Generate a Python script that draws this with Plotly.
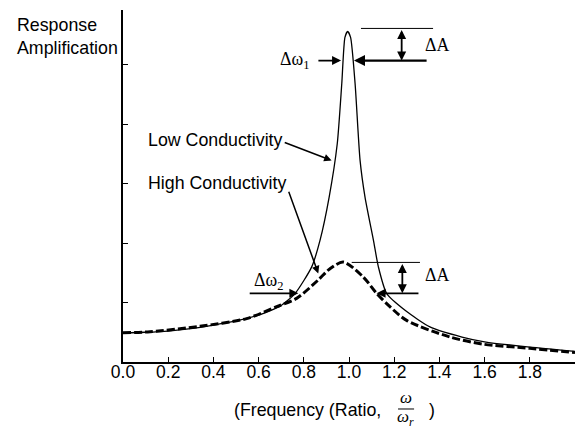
import plotly.graph_objects as go

# Low conductivity response (solid)
low_x = [0.0, 0.1, 0.2, 0.3, 0.4, 0.5, 0.6, 0.65, 0.7, 0.761, 0.835, 0.872, 0.912, 0.948,
         0.968, 0.982, 0.994, 1.007, 1.027, 1.049, 1.071, 1.108, 1.13, 1.167, 1.248, 1.358,
         1.5, 1.6, 1.8, 2.0]
low_y = [0.49, 0.50, 0.52, 0.56, 0.62, 0.69, 0.79, 0.86, 0.95, 1.15, 1.60, 2.05, 2.77, 3.67,
         4.68, 5.46, 5.56, 5.46, 4.68, 3.39, 2.77, 2.05, 1.60, 1.15, 0.87, 0.59,
         0.42, 0.34, 0.25, 0.18]

# High conductivity response (dashed)
high_x = [0.0, 0.12, 0.34, 0.547, 0.68, 0.768, 0.864, 0.916, 0.975, 1.063, 1.123, 1.181,
          1.255, 1.447, 1.593, 1.8, 2.0]
high_y = [0.49, 0.51, 0.60, 0.73, 0.93, 1.07, 1.38, 1.57, 1.68, 1.43, 1.15, 0.93,
          0.70, 0.42, 0.30, 0.23, 0.16]

x_ticks = [0.0, 0.2, 0.4, 0.6, 0.8, 1.0, 1.2, 1.4, 1.6, 1.8]
x_tick_labels = ["0.0", "0.2", "0.4", "0.6", "0.8", "1.0", "1.2", "1.4", "1.6", "1.8"]
y_ticks = [1, 2, 3, 4, 5]

SANS = "Liberation Sans, Arial, sans-serif"
SERIF = "Liberation Serif, Times New Roman, serif"
LAB = 17.8

fig = go.Figure()
fig.add_trace(go.Scatter(x=low_x, y=low_y, mode="lines", line=dict(color="black", width=1.3, shape="spline", smoothing=0.6),
                         showlegend=False, hoverinfo="skip"))
fig.add_trace(go.Scatter(x=high_x, y=high_y, mode="lines", line=dict(color="black", width=3, dash="8px,3px", shape="spline", smoothing=0.8),
                         showlegend=False, hoverinfo="skip"))

ann = []
def text(x, y, t, font=SANS, size=LAB, xanchor="center", yanchor="middle", **kw):
    ann.append(dict(x=x, y=y, xref="x", yref="y", text=t, showarrow=False,
                    font=dict(family=font, size=size, color="black"),
                    xanchor=xanchor, yanchor=yanchor, **kw))

def arrow(x0, y0, x1, y1, width=1.5, side="end", head=2, size=1.0):
    ann.append(dict(x=x1, y=y1, ax=x0, ay=y0, xref="x", yref="y", axref="x", ayref="y",
                    text="", showarrow=True, arrowhead=head, startarrowhead=head,
                    arrowsize=size, startarrowsize=size, arrowwidth=width,
                    arrowcolor="black", arrowside=side, standoff=0, startstandoff=0))

ann.append(dict(x=-0.2390, y=0.926, xref="paper", yref="paper", text="Response<br>Amplification",
                showarrow=False, align="left", xanchor="left", yanchor="middle",
                font=dict(family=SANS, size=LAB, color="black")))
text(0.103, 3.74, "Low Conductivity", xanchor="left")
text(0.103, 3.01, "High Conductivity", xanchor="left")
arrow(0.709, 3.70, 0.923, 3.39)
arrow(0.731, 2.89, 0.864, 1.49)

# upper markers
text(0.761, 5.07, "Δω<sub>1</sub>", font=SERIF)
arrow(0.858, 5.07, 0.965, 5.07, width=1.8)
arrow(1.350, 5.07, 1.022, 5.07, width=2.2)
arrow(1.233, 5.61, 1.233, 5.07, width=1.8, side="end+start")
text(1.39, 5.33, "ΔA", font=SERIF)

# lower markers
text(0.643, 1.36, "Δω<sub>2</sub>", font=SERIF)
arrow(0.554, 1.155, 0.776, 1.155, width=1.8)
arrow(1.314, 1.155, 1.122, 1.155, width=1.8)
arrow(1.236, 1.675, 1.236, 1.155, width=1.8, side="end+start")
text(1.388, 1.46, "ΔA", font=SERIF)

# axis title with fraction
ann.append(dict(x=1.150, y=-0.1364, xref="x", yref="paper", text="(Frequency (Ratio,", showarrow=False,
                font=dict(family=SANS, size=LAB, color="black"), xanchor="right", yanchor="middle"))
ann.append(dict(x=1.252, y=-0.102, xref="x", yref="paper", text="<i>ω</i>", showarrow=False,
                font=dict(family=SERIF, size=17, color="black"), xanchor="center", yanchor="middle"))
ann.append(dict(x=1.252, y=-0.160, xref="x", yref="paper", text="<i>ω<sub>r</sub></i>", showarrow=False,
                font=dict(family=SERIF, size=17, color="black"), xanchor="center", yanchor="middle"))
ann.append(dict(x=1.366, y=-0.1364, xref="x", yref="paper", text=")", showarrow=False,
                font=dict(family=SANS, size=LAB, color="black"), xanchor="center", yanchor="middle"))

shapes = [
    dict(type="line", xref="x", yref="y", x0=1.053, x1=1.372, y0=5.61, y1=5.61, line=dict(color="black", width=1)),
    dict(type="line", xref="x", yref="y", x0=1.012, x1=1.314, y0=1.675, y1=1.675, line=dict(color="black", width=1)),
    dict(type="line", xref="x", yref="paper", x0=1.217, x1=1.288, y0=-0.1335, y1=-0.1335, line=dict(color="black", width=1)),
]

fig.update_layout(
    width=577, height=422,
    margin=dict(l=115, r=10, t=2, b=68),
    plot_bgcolor="white", paper_bgcolor="white",
    annotations=ann, shapes=shapes,
    font=dict(family=SANS, size=17, color="black"),
    xaxis=dict(range=[0, 2.0], showline=True, linecolor="black", linewidth=1.5, showgrid=False, zeroline=False,
               ticks="inside", ticklen=5, tickwidth=1, tickcolor="black",
               tickvals=x_ticks, ticktext=x_tick_labels, tickfont=dict(family=SANS, size=17.5),
               ticklabelstandoff=-7),
    yaxis=dict(range=[0, 5.92], showline=True, linecolor="black", linewidth=1.5, showgrid=False, zeroline=False,
               ticks="inside", ticklen=5, tickwidth=1, tickcolor="black",
               tickvals=y_ticks, showticklabels=False),
)

fig.write_html("out.html")
